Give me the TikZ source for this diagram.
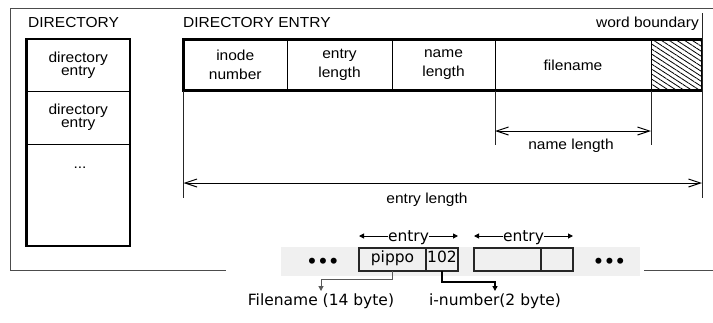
\documentclass[tikz,border=0pt]{standalone}
\usepackage{fontspec}
\setmainfont[FakeStretch=1.07]{Liberation Sans}
\newfontfamily\notefont{DejaVu Sans}
\usetikzlibrary{arrows.meta,patterns.meta}

\tikzset{
  frameline/.style={draw=black!70, line width=1pt},
  outline/.style={draw=black, line width=2.5pt},
  cell/.style={draw=black, line width=1pt, inner sep=0pt, outer sep=0pt, align=center,
               font=\fontsize{14.5}{19}\selectfont},
  dircell/.style={cell, font=\fontsize{14.5}{13}\selectfont, minimum width=103.5pt},
  guide/.style={draw=black!85, line width=1pt},
  dimarrow/.style={line width=1pt,
    {Straight Barb[length=12pt,width=8pt]}-{Straight Barb[length=12pt,width=8pt]}},
  lbl/.style={inner sep=0pt, font=\fontsize{14.5}{16}\selectfont},
  note/.style={inner sep=0pt, font=\notefont\fontsize{15.5}{18}\selectfont},
  slot/.style={draw=black!85, line width=1.5pt, inner sep=0pt, outer sep=0pt,
               minimum height=23pt, text height=10.5pt, text depth=4pt,
               font=\notefont\fontsize{15.5}{18}\selectfont},
  span/.style={line width=1pt,
    {Triangle[length=5pt,width=5pt]}-{Triangle[length=5pt,width=5pt]}},
  pointer/.style={-{Triangle[length=5pt,width=5pt]}},
}

\begin{document}
\begin{tikzpicture}[x=1pt,y=-1pt]
\useasboundingbox (0,0) rectangle (713,322);

% outer frame
\draw[frameline] (713,8) -- (10,8) -- (10,270) -- (226,270);
\draw[frameline] (644,270) -- (713,270);

% titles
\node[lbl, anchor=base west] (dirtitle) at (28,27) {DIRECTORY};
\node[lbl, anchor=base west] (entrytitle) at (183,27) {DIRECTORY ENTRY};
\node[lbl, anchor=base east] (wordb) at (699,27) {word boundary};

% directory column
\node[dircell, minimum height=52pt] (dir1) at (78.25,65) {directory\\entry};
\node[dircell, minimum height=53pt] (dir2) at (78.25,117.5) {directory\\entry};
\node[dircell, minimum height=102pt] (dir3) at (78.25,195) {};
\node[lbl, anchor=base] (more) at (80,168) {...};
\draw[outline] (dir1.north west) rectangle (dir3.south east);

% directory entry layout
\node[cell, minimum width=103.5pt, minimum height=51pt] (inode) at (235.25,65) {inode\\number};
\node[cell, minimum width=105pt, minimum height=51pt] (elen) at (339.5,65) {entry\\length};
\node[cell, minimum width=103pt, minimum height=51pt] (nlen) at (443.5,65) {name\\length};
\node[cell, minimum width=156pt, minimum height=51pt] (fname) at (573,65) {filename};
\node[cell, minimum width=51pt, minimum height=51pt,
      pattern={Lines[angle=-33,distance=4.2pt,line width=0.8pt]}] (pad) at (676.5,65) {};
\draw[outline] (inode.north west) rectangle (pad.south east);

% extent guides
\draw[guide] (inode.south west) -- ([yshift=-107.5pt]inode.south west);
\draw[guide] (fname.south west) -- ([yshift=-54.5pt]fname.south west);
\draw[guide] (fname.south east) -- ([yshift=-54.5pt]fname.south east);
\draw[guide] ([yshift=26.5pt]pad.north east) -- ([yshift=-107.5pt]pad.south east);

% dimension arrows
\draw[dimarrow] ([yshift=-40.5pt]fname.south west) -- ([yshift=-40.5pt]fname.south east);
\node[lbl, anchor=base] (nlenlbl) at (571,149) {name length};
\draw[dimarrow] ([yshift=-92.5pt]inode.south west) -- ([yshift=-92.5pt]pad.south east);
\node[lbl, anchor=base] (elenlbl) at (427,203) {entry length};

% byte strip
\fill[black!6] (281,247) rectangle (640,276);
\node[note, font=\notefont\bfseries\fontsize{17}{17}\selectfont, anchor=base] (ldots) at (323,267) {•••};
\node[note, font=\notefont\bfseries\fontsize{17}{17}\selectfont, anchor=base] (rdots) at (609.5,267) {•••};
\node[slot, minimum width=67pt] (pippo) at (392.5,259.5) {pippo};
\node[slot, minimum width=32pt] (inum) at (442,259.5) {102};
\node[slot, minimum width=67pt] (slotb) at (507.5,259.5) {};
\node[slot, minimum width=32pt] (slotc) at (557,259.5) {};

\draw[span] ([yshift=12pt]pippo.north west) -- ([yshift=12pt]inum.north east)
  node[midway, note, fill=white, inner xsep=0.5pt, yshift=-1.5pt] (entryA) {entry};
\draw[span] ([yshift=12pt]slotb.north west) -- ([yshift=12pt]slotc.north east)
  node[midway, note, fill=white, inner xsep=0.5pt, yshift=-1.5pt] (entryB) {entry};

% field notes
\node[note, anchor=base] (fnl) at (321,305) {Filename (14 byte)};
\node[note, anchor=base] (inl) at (495,305) {i-number(2 byte)};
\draw[pointer, line width=1pt, black!65] (pippo.south) -- ++(0,8) -| ([yshift=2pt]fnl.north);
\draw[pointer, line width=1.6pt, black] (inum.south) -- ++(0,11) -| ([yshift=2pt]inl.north);
\end{tikzpicture}
\end{document}
